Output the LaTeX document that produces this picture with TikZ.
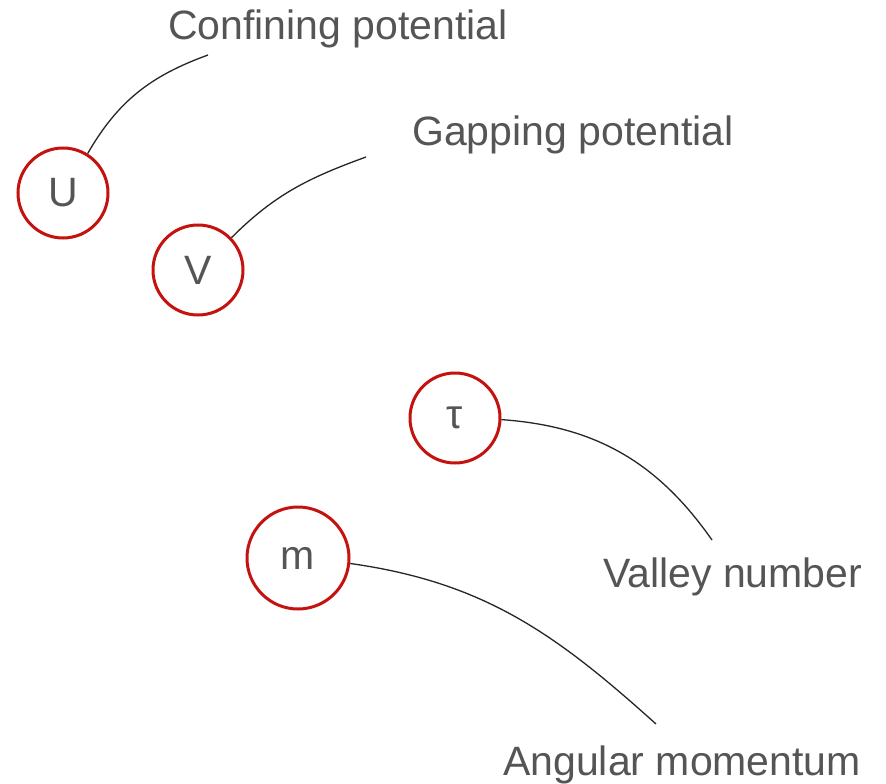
\documentclass[tikz,border=0pt]{standalone}
\usepackage{fontspec}
\setmainfont{Liberation Sans}
\definecolor{ringred}{HTML}{C4120F}
\definecolor{txtgray}{HTML}{555555}
\begin{document}
\begin{tikzpicture}[x=1pt,y=-1pt,
  ring/.style={circle,draw=ringred,line width=3pt,minimum size=90pt,inner sep=0pt,
    text=txtgray,font=\fontsize{41}{48}\selectfont},
  lbl/.style={anchor=base west,text=txtgray,inner sep=0pt,font=\fontsize{41}{48}\selectfont},
  conn/.style={draw=black!85,line width=1.3pt}]
\useasboundingbox (0,0) rectangle (886,784);
\fill[white] (0,0) rectangle (886,784);
\node[ring] (U) at (63,193) {U};
\node[ring] (V) at (198,270) {V};
\node[ring] (T) at (455,418) {τ};
\node[ring,minimum size=102pt] (M) at (298,558) {m};
\node[lbl] (lU) at (168,40) {Confining potential};
\node[lbl] (lV) at (412,145) {Gapping potential};
\node[lbl] (lT) at (603,587) {Valley number};
\node[lbl] (lM) at (503,775) {Angular momentum};
\coordinate (eU) at (208,55);
\coordinate (eV) at (366,157);
\coordinate (eT) at (712,540);
\coordinate (eM) at (656,724);
\draw[conn] (U.58) to[out=60,in=200] (eU);
\draw[conn] (V.44) to[out=45,in=200] (eV);
\draw[conn] (T.-2) to[out=-4,in=125] (eT);
\draw[conn] (M.-6) to[out=-8,in=138] (eM);
\end{tikzpicture}
\end{document}
